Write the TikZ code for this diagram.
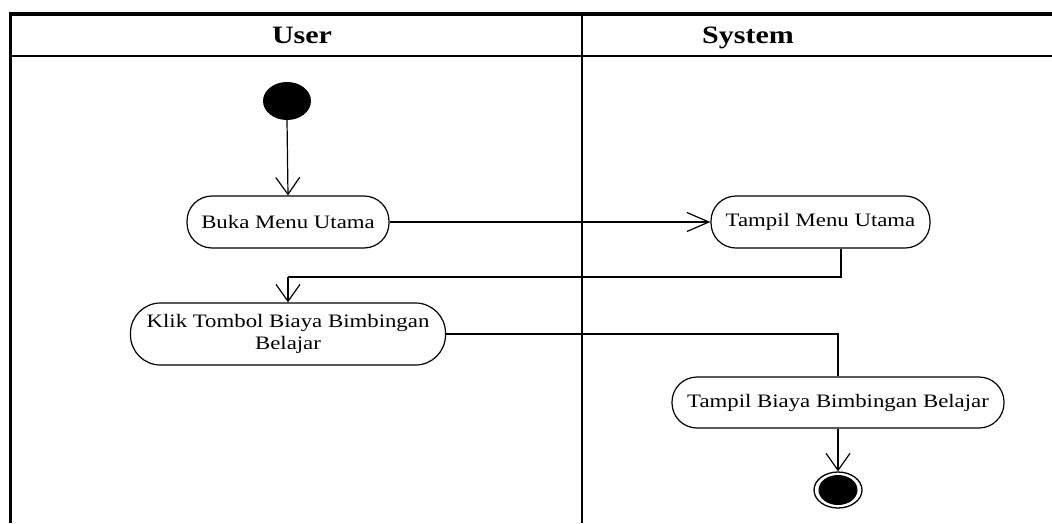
\documentclass[tikz,border=0pt]{standalone}
\usepackage{fontspec}
\setmainfont{Liberation Serif}[FakeStretch=1.2]
\usetikzlibrary{arrows.meta,shapes.geometric}

\tikzset{
  frame/.style={line width=2pt, black},
  act/.style={draw, line width=1.2pt, rounded corners=25pt, align=center,
    inner sep=0pt, font=\fontsize{19}{22.5}\selectfont},
  lanetitle/.style={anchor=base, font=\fontsize{25}{30}\selectfont\bfseries},
  conn/.style={line width=1.2pt},
  vtip/.style={-{Straight Barb[length=17pt,width=24pt]}},
  htip/.style={-{Straight Barb[length=22pt,width=19pt]}},
}

\begin{document}
\begin{tikzpicture}[x=1pt, y=-1pt]
  \useasboundingbox (0,0) rectangle (1052,523);

  % swimlane frame
  \draw[line width=3.5pt] (9,14) -- (1052,14);
  \draw[frame] (9,56) -- (1052,56);
  \draw[line width=2.5pt] (10.3,12.5) -- (10.3,523);
  \draw[frame] (581.7,14) -- (581.7,523);

  % lane titles
  \node[lanetitle] (laneuser) at (302,43) {User};
  \node[lanetitle] (lanesys) at (748,43) {System};

  % start and end
  \node[ellipse, fill=black, inner sep=0pt, minimum width=48pt, minimum height=38pt] (start) at (287,101) {};
  \node[ellipse, draw, line width=1.3pt, inner sep=0pt, minimum width=48pt, minimum height=36pt] (end) at (838,490) {};
  \fill (end.center) ellipse [x radius=19.5, y radius=15];

  % activities
  \node[act, minimum width=202pt, minimum height=52pt] (buka) at (288,222) {Buka Menu Utama};
  \node[act, minimum width=219pt, minimum height=52pt] (tmu) at (820.5,222) {Tampil Menu Utama};
  \node[act, rounded corners=30pt, minimum width=315pt, minimum height=62pt] (klik) at (288,334)
    {Klik Tombol Biaya Bimbingan\\[-1pt]Belajar};
  \node[act, minimum width=332pt, minimum height=51pt] (tbb) at (838,402.5) {Tampil Biaya Bimbingan Belajar};

  % bend points
  \coordinate (bendA) at (841,277);
  \coordinate (bendB) at (288,277);

  % flows
  \draw[conn, vtip] (start.south) -- (buka.north);
  \draw[conn, htip] (buka.east) -- (tmu.west);
  \draw[conn] (tmu.south -| bendA) -- (bendA) -- (bendB);
  \draw[conn, vtip] (bendB) -- (klik.north);
  \draw[conn] (klik.east) -| (tbb.north);
  \draw[conn, vtip] (tbb.south) -- (end.north);
\end{tikzpicture}
\end{document}
